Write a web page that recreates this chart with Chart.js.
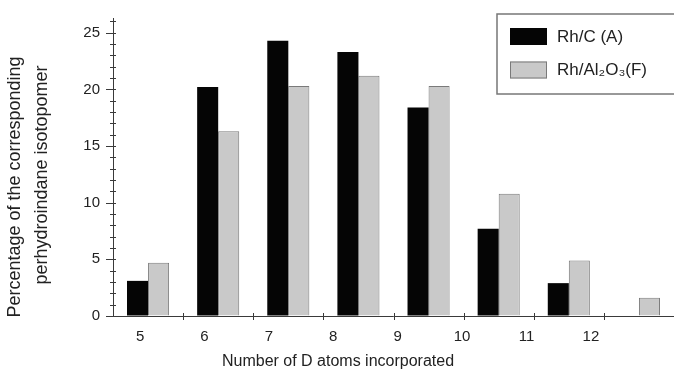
<!DOCTYPE html>
<html>
<head>
<meta charset="utf-8">
<script src="https://cdn.jsdelivr.net/npm/chart.js@4/dist/chart.umd.min.js"></script>
<style>
  html, body { margin: 0; padding: 0; background: #fff; }
  #wrap { width: 674px; height: 372px; position: relative; }
</style>
</head>
<body>
<div id="wrap"><canvas id="isotopomer"></canvas></div>
<script>
// data
const categories = ['5', '6', '7', '8', '9', '10', '11', '12'];
const rhCValues = [3.1, 20.2, 24.3, 23.3, 18.4, 7.7, 2.9, null];
const rhAlValues = [4.7, 16.3, 20.3, 21.2, 20.3, 10.8, 4.9, 1.6];
const seriesLabels = ['Rh/C (A)', 'Rh/Al\u2082O\u2083(F)'];
const tickLabelValues = [5, 6, 7, 8, 9, 10, 11, 12];
const yMajorTicks = [0, 5, 10, 15, 20, 25];
const xTitle = 'Number of D atoms incorporated';
const yTitle = ['Percentage of the corresponding', 'perhydroindane isotopomer'];

const FONT = "'Liberation Sans', Arial, sans-serif";
const INK = '#222';

// axis lines, crossing tick marks, titles and boxed legend
const figurePlugin = {
    id: 'figure',
    afterDatasetsDraw(chart) {
        const { ctx, chartArea: a, scales } = chart;
        const y = scales.y, x = scales.x;
        ctx.save();
        ctx.strokeStyle = '#3a3a3a';
        ctx.lineWidth = 1;
        ctx.beginPath();
        ctx.moveTo(a.left + 0.5, a.top);
        ctx.lineTo(a.left + 0.5, a.bottom + 0.5);
        ctx.lineTo(a.right, a.bottom + 0.5);
        // y ticks every unit, longer at majors
        for (let v = 0; v <= Math.floor(y.max); v++) {
            const py = Math.round(y.getPixelForValue(v)) + 0.5;
            const major = yMajorTicks.includes(v);
            ctx.moveTo(a.left - (major ? 7 : 3), py);
            ctx.lineTo(a.left + 3, py);
        }
        // x ticks at category boundaries
        for (let i = 1; i < categories.length + 1; i++) {
            const px = Math.round((x.getPixelForValue(i - 1) + x.getPixelForValue(i)) / 2) + 0.5;
            ctx.moveTo(px, a.bottom - 3);
            ctx.lineTo(px, a.bottom + 4);
        }
        ctx.stroke();

        // axis titles
        ctx.fillStyle = INK;
        ctx.textAlign = 'center';
        ctx.textBaseline = 'middle';
        ctx.font = '16px ' + FONT;
        ctx.fillText(xTitle, 338, 362);
        ctx.font = '18px ' + FONT;
        [[15, 187], [42, 175]].forEach(([tx, ty], i) => {
            ctx.save();
            ctx.translate(tx, ty);
            ctx.rotate(-Math.PI / 2);
            ctx.fillText(yTitle[i], 0, 0);
            ctx.restore();
        });

        // legend
        ctx.strokeStyle = '#777';
        ctx.lineWidth = 1.5;
        ctx.strokeRect(497, 14, 200, 80);
        chart.data.datasets.forEach((ds, i) => {
            const top = 28 + i * 33.5;
            ctx.fillStyle = ds.backgroundColor;
            ctx.fillRect(510, top, 37, 17);
            if (ds.borderWidth) {
                ctx.strokeStyle = ds.borderColor;
                ctx.lineWidth = 1;
                ctx.strokeRect(510.5, top + 0.5, 36, 16);
            }
            ctx.fillStyle = INK;
            ctx.font = '17px ' + FONT;
            ctx.textBaseline = 'middle';
            ctx.textAlign = 'left';
            ctx.fillText(ds.label, 557, top + 9);
        });
        ctx.restore();
    }
};

const isoChart = new Chart(document.getElementById('isotopomer'), {
    type: 'bar',
    data: {
        labels: categories,
        datasets: [
            {
                label: seriesLabels[0],
                data: rhCValues,
                backgroundColor: '#050505',
                borderWidth: 0
            },
            {
                label: seriesLabels[1],
                data: rhAlValues,
                backgroundColor: '#c9c9c9',
                borderColor: '#7a7a7a',
                borderWidth: 1
            }
        ]
    },
    options: {
        responsive: true,
        maintainAspectRatio: false,
        animation: false,
        layout: { padding: { top: 18, right: 0, bottom: 0, left: 0 } },
        datasets: {
            bar: { categoryPercentage: 0.6, barPercentage: 1.0 }
        },
        plugins: {
            legend: { display: false },
            tooltip: { enabled: false }
        },
        scales: {
            x: {
                type: 'category',
                display: false,
                offset: true
            },
            // label axis: the printed tick numbers sit on their own spacing
            xl: {
                type: 'linear',
                position: 'bottom',
                offset: false,
                min: 4.58,
                max: 13.29,
                afterBuildTicks: (scale) => {
                    scale.ticks = tickLabelValues.map(v => ({ value: v }));
                },
                afterFit: (scale) => { scale.height = 56; },
                grid: { display: true, offset: false, drawOnChartArea: false, tickLength: 12, tickColor: 'rgba(0,0,0,0)' },
                border: { display: false },
                ticks: {
                    padding: 0,
                    color: INK,
                    font: { family: FONT, size: 15 },
                    callback: (v) => String(v)
                }
            },
            y: {
                min: 0,
                max: 26.3,
                afterBuildTicks: (scale) => {
                    scale.ticks = yMajorTicks.map(v => ({ value: v }));
                },
                afterFit: (scale) => { scale.width = 113; },
                grid: { display: true, drawOnChartArea: false, tickLength: 13, tickColor: 'rgba(0,0,0,0)' },
                border: { display: false },
                ticks: {
                    padding: 0,
                    color: INK,
                    font: { family: FONT, size: 15 }
                }
            }
        }
    },
    plugins: [figurePlugin]
});
</script>
</body>
</html>
